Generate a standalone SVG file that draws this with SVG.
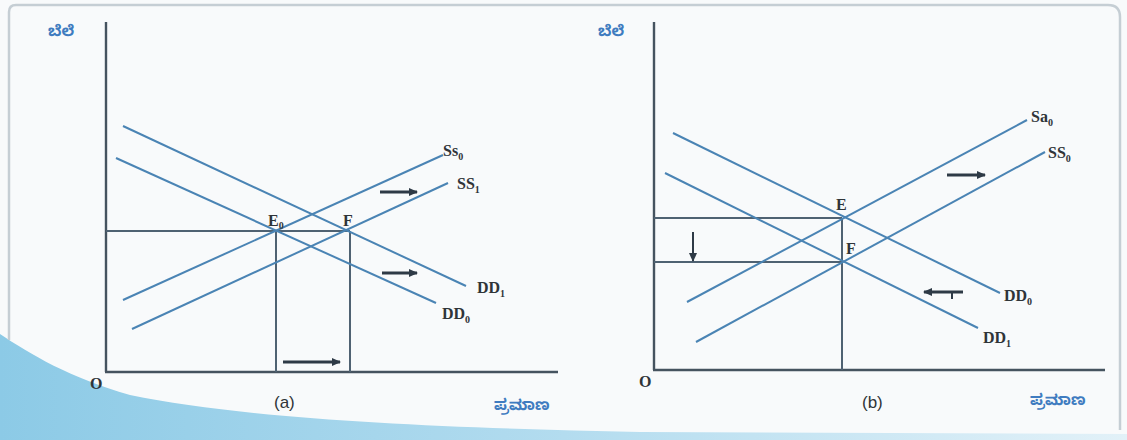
<svg xmlns="http://www.w3.org/2000/svg" width="1127" height="440" viewBox="0 0 1127 440">
<defs>
<linearGradient id="sw" x1="0" y1="0" x2="1" y2="0">
<stop offset="0" stop-color="#8ccae6"/>
<stop offset="0.5" stop-color="#b3dcef"/>
<stop offset="1" stop-color="#e2f1f8"/>
</linearGradient>
<marker id="ah" markerUnits="userSpaceOnUse" markerWidth="9" markerHeight="8" refX="8" refY="4" orient="auto">
<path d="M0,0 L9,4 L0,8 Z" fill="#2e3a46"/>
</marker>
<style>
.crv{stroke:#4a84b4;stroke-width:2;fill:none}
.ax{stroke:#45535f;stroke-width:2.4;fill:none}
.gd{stroke:#4f6272;stroke-width:2;fill:none}
.arr{stroke:#2e3a46;stroke-width:3;fill:none}
.lbl{font-family:"Liberation Serif",serif;font-size:16px;fill:#2f3438;font-weight:bold}
.sub{font-size:10px}
.kn{font-family:"Noto Sans Kannada","Noto Sans","DejaVu Sans",sans-serif;font-size:15px;fill:#3f7cc0;font-weight:bold}
.cap{font-family:"Liberation Sans",sans-serif;font-size:17px;fill:#2f3438}
</style>
</defs>
<rect width="1127" height="440" fill="#f8fafb"/>
<path d="M0,334 C30,354 70,378 130,395 C250,420 450,428 640,432 L1127,434 L1127,440 L0,440 Z" fill="url(#sw)"/>
<path d="M9,340 L9,12 Q9,5 16,5 L1108,5 Q1120,5 1120,17 L1120,430" fill="none" stroke="#c5ced4" stroke-width="2.5"/>

<g id="panel-a">
<g id="axes-a">
<line class="ax" x1="106" y1="22" x2="106" y2="372"/>
<line class="ax" x1="105" y1="372" x2="558" y2="372"/>
<text class="kn" x="48" y="36">ಬೆಲೆ</text>
<text class="lbl" x="90" y="389" font-family="Liberation Sans">O</text>
<text class="cap" x="274" y="408">(a)</text>
<text class="kn" x="494" y="410">ಪ್ರಮಾಣ</text>
</g>
<g id="connectors-a">
<line class="gd" x1="106" y1="231" x2="350" y2="231"/>
<line class="gd" x1="276" y1="231" x2="276" y2="372"/>
<line class="gd" x1="350" y1="231" x2="350" y2="372"/>
<line class="crv" x1="123" y1="126" x2="466" y2="286"/>
<line class="crv" x1="116" y1="158" x2="436" y2="303"/>
<line class="crv" x1="123" y1="300" x2="443" y2="155"/>
<line class="crv" x1="132" y1="329" x2="448" y2="183"/>
<line class="arr" x1="380" y1="192" x2="417" y2="192" marker-end="url(#ah)"/>
<line class="arr" x1="382" y1="273" x2="417" y2="273" marker-end="url(#ah)"/>
<line class="arr" x1="283" y1="362" x2="340" y2="362" marker-end="url(#ah)"/>
</g>
<g id="labels-a">
<text class="lbl" x="268" y="226">E<tspan class="sub" dy="3">0</tspan></text>
<text class="lbl" x="343" y="226">F</text>
<text class="lbl" x="443" y="156">Ss<tspan class="sub" dy="4">0</tspan></text>
<text class="lbl" x="457" y="189">SS<tspan class="sub" dy="4">1</tspan></text>
<text class="lbl" x="477" y="293">DD<tspan class="sub" dy="4">1</tspan></text>
<text class="lbl" x="442" y="319">DD<tspan class="sub" dy="4">0</tspan></text>
</g>
</g>

<g id="panel-b">
<g id="axes-b">
<line class="ax" x1="654" y1="22" x2="654" y2="370"/>
<line class="ax" x1="653" y1="370" x2="1105" y2="370"/>
<text class="kn" x="598" y="36">ಬೆಲೆ</text>
<text class="lbl" x="639" y="387" font-family="Liberation Sans">O</text>
<text class="cap" x="862" y="408">(b)</text>
<text class="kn" x="1030" y="405">ಪ್ರಮಾಣ</text>
</g>
<g id="connectors-b">
<line class="gd" x1="654" y1="218" x2="842" y2="218"/>
<line class="gd" x1="654" y1="262" x2="842" y2="262"/>
<line class="gd" x1="842" y1="218" x2="842" y2="370"/>
<line class="crv" x1="673" y1="133" x2="1000" y2="293"/>
<line class="crv" x1="665" y1="173" x2="978" y2="328"/>
<line class="crv" x1="687" y1="302" x2="1027" y2="120"/>
<line class="crv" x1="696" y1="342" x2="1045" y2="152"/>
<line stroke="#2e3a46" stroke-width="2" x1="693" y1="232" x2="693" y2="261" marker-end="url(#ah)"/>
<line class="arr" x1="947" y1="175" x2="985" y2="175" marker-end="url(#ah)"/>
<line class="arr" x1="963" y1="292" x2="924" y2="292" stroke-width="2.5" marker-end="url(#ah)"/>
<line stroke="#2e3a46" stroke-width="2" x1="952" y1="292" x2="952" y2="299"/>
</g>
<g id="labels-b">
<text class="lbl" x="836" y="210">E</text>
<text class="lbl" x="846" y="254">F</text>
<text class="lbl" x="1031" y="122">Sa<tspan class="sub" dy="4">0</tspan></text>
<text class="lbl" x="1048" y="158">SS<tspan class="sub" dy="4">0</tspan></text>
<text class="lbl" x="1004" y="301">DD<tspan class="sub" dy="4">0</tspan></text>
<text class="lbl" x="983" y="343">DD<tspan class="sub" dy="4">1</tspan></text>
</g>
</g>
</svg>
